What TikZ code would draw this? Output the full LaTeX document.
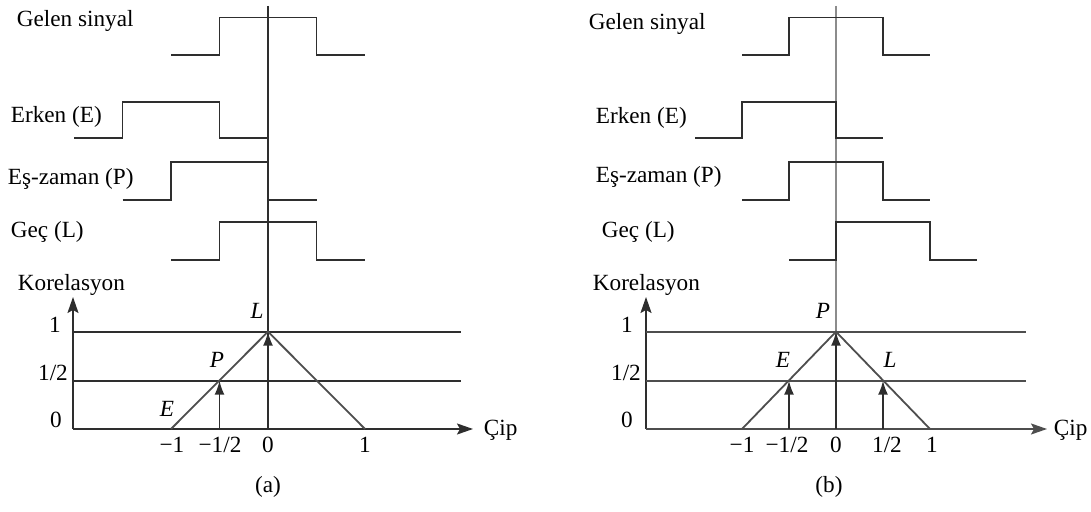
\documentclass[tikz,border=0pt]{standalone}
\usepackage{fontspec}
\setmainfont{Liberation Serif}
\usetikzlibrary{positioning,arrows.meta}
\definecolor{ink}{HTML}{2E2E2E}
\definecolor{mid}{HTML}{4E4E4E}
\definecolor{pale}{HTML}{8C8C8C}

\begin{document}
\begin{tikzpicture}[x=0.5pt, y=-0.5pt, line width=0.9pt, color=ink,
  every node/.style={font=\fontsize{11.6}{13}\selectfont, text=black, inner sep=0pt, anchor=base west},
  num/.style={anchor=base},
  axarrow/.style={-{Stealth[length=8pt,width=5.5pt,inset=1.5pt]}},
  uparrow/.style={-{Latex[length=7pt,width=5pt]}}]
  \useasboundingbox (0,0) rectangle (1091,512);

  % (a) signals
  \node (a1) at (16,27)   {Gelen sinyal};
  \node (a2) at (10,123)  {Erken (E)};
  \node (a3) at (7,185)   {Eş-zaman (P)};
  \node (a4) at (10,238)  {Geç (L)};
  \node (a5) at (17,291)  {Korelasyon};
  \draw (268,6) -- (268,429);
  \draw (171,55) -| (219.5,17.5) -| (316.5,55) -- (365,55);
  \draw (74,138) -| (122.5,102) -| (219.5,138) -- (268,138);
  \draw (122.5,200) -| (171,162) -| (268,200) -- (316.5,200);
  \draw (171,260) -| (219.5,222) -| (316.5,260) -- (365,260);

  % (a) correlation
  \coordinate (oa) at (73,429);
  \coordinate (ya) at (73,297);
  \coordinate (xa) at (473,429);
  \coordinate (ta) at (268,331.7);
  \coordinate (pa) at (219.5,380.7);
  \draw[axarrow] (oa) -- (ya);
  \draw[axarrow] (oa) -- (xa);
  \draw (73,331.7) -- (461,331.7);
  \draw (73,380.7) -- (461,380.7);
  \draw[mid] (171,429) -- (ta) -- (365,429);
  \draw[uparrow] (219.5,429) -- (pa);
  \draw[uparrow] (268,429) -- (ta);
  \node[num] (a6) at (55,332.7) {1};
  \node[num] (a7) at (53,380.7) {1/2};
  \node[num] (a8) at (56,428)   {0};
  \node[num] (a9) at (172,452.7) {−1};
  \node[num] (a10) at (220,452.7) {−1/2};
  \node[num] (a11) at (268,452.7) {0};
  \node[num] (a12) at (365,452.7) {1};
  \node[num] (a13) at (257,319) {\textit{L}};
  \node[num] (a14) at (217,368) {\textit{P}};
  \node[num] (a15) at (167,417) {\textit{E}};
  \node (a16) at (483,436) {Çip};
  \node[num] (a17) at (268,493) {(a)};

  % (b) signals
  \node (b1) at (588,30)  {Gelen sinyal};
  \node (b2) at (595,124) {Erken (E)};
  \node (b3) at (595,183) {Eş-zaman (P)};
  \node (b4) at (601,238) {Geç (L)};
  \node (b5) at (592,291) {Korelasyon};
  \draw[pale] (836,6) -- (836,429);
  \draw (742,55) -| (789,17.5) -| (883,55) -- (930,55);
  \draw (695,138) -| (742,102) -| (836,138) -- (883,138);
  \draw (742,200) -| (789,162) -| (883,200) -- (930,200);
  \draw (789,260) -| (836,222) -| (930,260) -- (977,260);

  % (b) correlation
  \coordinate (ob) at (646,429);
  \coordinate (yb) at (646,297);
  \coordinate (xb) at (1047,429);
  \coordinate (tb) at (836,331.7);
  \coordinate (eb) at (789,380.7);
  \coordinate (lb) at (883,380.7);
  \draw[axarrow] (ob) -- (yb);
  \draw[axarrow, mid] (ob) -- (xb);
  \draw[mid] (646,331.7) -- (1026,331.7);
  \draw[mid] (646,380.7) -- (1026,380.7);
  \draw[mid] (742,429) -- (tb) -- (930,429);
  \draw[uparrow] (789,429) -- (eb);
  \draw[uparrow] (836,429) -- (tb);
  \draw[uparrow] (883,429) -- (lb);
  \node[num] (b6) at (627,332.7) {1};
  \node[num] (b7) at (626,380.7) {1/2};
  \node[num] (b8) at (627,428)   {0};
  \node[num] (b9) at (742,452.7) {−1};
  \node[num] (b10) at (787,452.7) {−1/2};
  \node[num] (b11) at (836,452.7) {0};
  \node[num] (b12) at (887,452.7) {1/2};
  \node[num] (b13) at (932,452.7) {1};
  \node[num] (b14) at (823,319) {\textit{P}};
  \node[num] (b15) at (783,368) {\textit{E}};
  \node[num] (b16) at (890,368) {\textit{L}};
  \node (b17) at (1053,436) {Çip};
  \node[num] (b18) at (829,493) {(b)};
\end{tikzpicture}
\end{document}
